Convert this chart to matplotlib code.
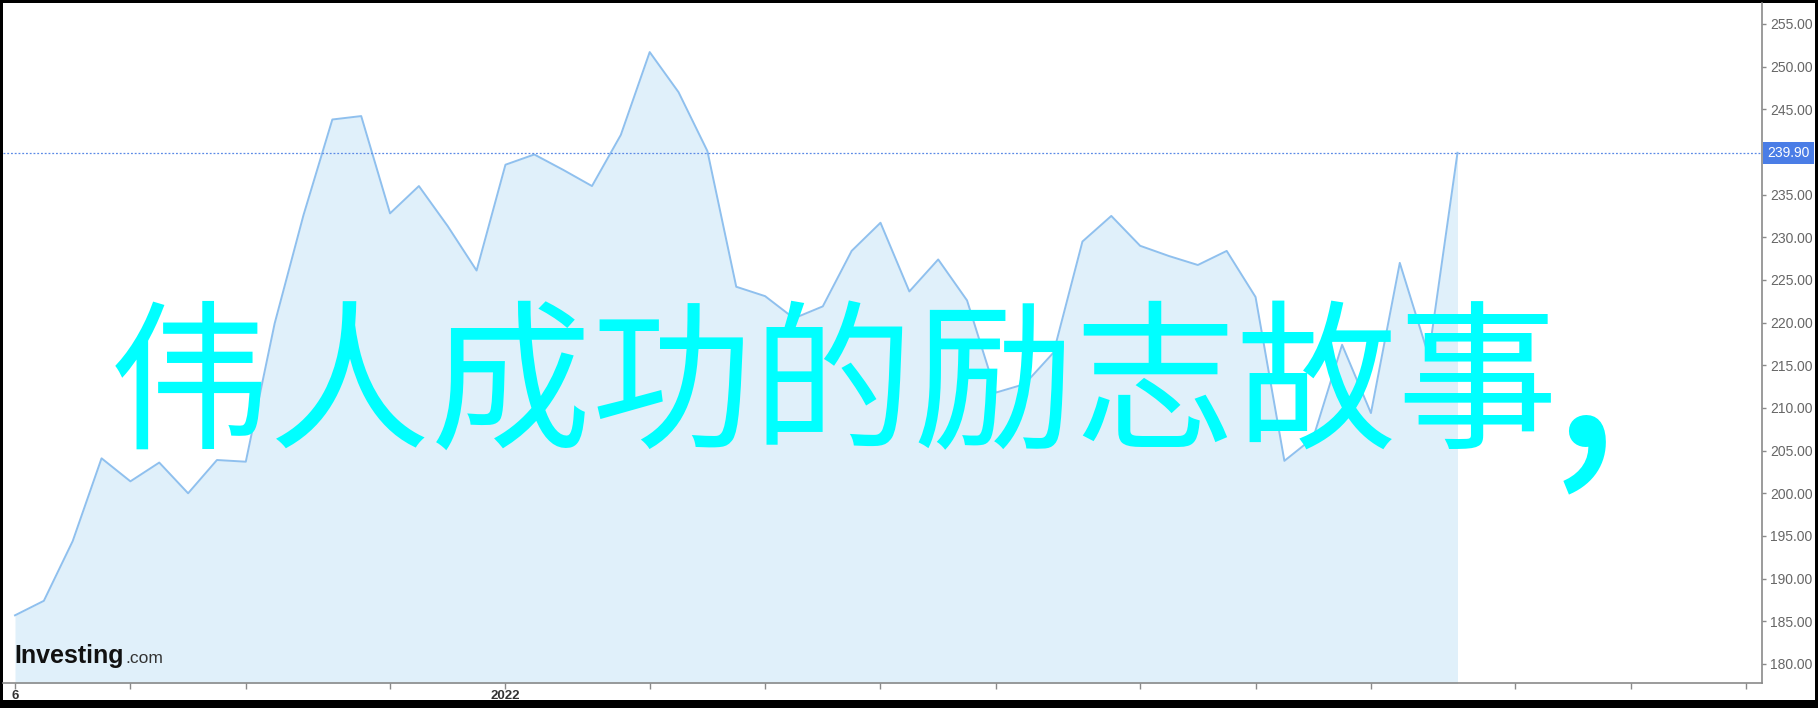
import matplotlib
matplotlib.use('Agg')
import matplotlib.pyplot as plt
import matplotlib.transforms as mtransforms
from matplotlib.patches import Rectangle

# weekly closes (index = week number)
prices = [185.7, 187.4, 194.4, 204.1, 201.4, 203.6, 200.0, 203.9, 203.7, 219.9,
          232.6, 243.8, 244.2, 232.8, 236.0, 231.3, 226.1, 238.5, 239.7, 237.9,
          236.0, 242.0, 251.7, 247.0, 240.1, 224.2, 223.1, 220.5, 221.9, 228.4,
          231.7, 223.65, 227.4, 222.6, 211.8, 212.8, 216.5, 229.5, 232.5, 229.0,
          227.8, 226.75, 228.4, 223.0, 203.8, 206.5, 217.4, 209.4, 227.0, 216.1,
          239.9]
weeks = list(range(len(prices)))
last_price = 239.90

x_ticks = [0, 4, 8, 13, 17, 22, 26, 30, 34, 39, 43, 47, 52, 56, 60]
x_labels = ['6', '', '', '', '2022', '', '', '', '', '', '', '', '', '', '']
y_ticks = [180, 185, 190, 195, 200, 205, 210, 215, 220, 225, 230, 235, 245, 250, 255]

title = '伟人成功的励志故事'
title_tail = ','

W, H = 1818, 708
fig = plt.figure(figsize=(W / 100, H / 100), dpi=100, facecolor='black')
fig.patches.append(Rectangle((3 / W, 8 / H), 1812 / W, 697 / H, transform=fig.transFigure,
                             facecolor='white', edgecolor='none', zorder=-10))

ax = fig.add_axes([3 / W, (H - 683) / H, (1762 - 3) / W, (683 - 3) / H])
ax.set_facecolor('none')

ax.fill_between(weeks, prices, 170, color='#e0f0fa', lw=0)
ax.plot(weeks, prices, color='#8fc0ee', lw=1.4)
ax.axhline(last_price, color='#5b8ae6', lw=0.9, ls=(0, (1.5, 1.5)))

ax.set_xlim(-0.416, 60.555)
ax.set_ylim(177.77, 257.45)

for s in ['left', 'top']:
    ax.spines[s].set_visible(False)
for s in ['right', 'bottom']:
    ax.spines[s].set_color('#8a8a8a')
    ax.spines[s].set_linewidth(1.2)

ax.yaxis.tick_right()
ax.set_yticks(y_ticks)
ax.set_yticklabels(['%.2f' % t for t in y_ticks], family='Liberation Sans', fontsize=10, color='#666666')
ax.tick_params(axis='y', direction='out', length=3, width=1, color='#8a8a8a', pad=3)

ax.set_xticks(x_ticks)
ax.set_xticklabels(x_labels, family='Liberation Sans', fontsize=9.5, color='#333333', fontweight='bold')
ax.tick_params(axis='x', direction='out', length=4, width=1, color='#8a8a8a', pad=1)

# current price tag on the right axis
trans = mtransforms.blended_transform_factory(ax.transAxes, ax.transData)
ax.annotate('%.2f' % last_price, xy=(1, last_price), xycoords=trans, xytext=(5, 0),
            textcoords='offset pixels', ha='left', va='center', color='white',
            family='Liberation Sans', fontsize=10,
            bbox=dict(boxstyle='square,pad=0.3', fc='#4a7de6', ec='none'))

# logo
fig.text(14 / W, 1 - 663 / H, 'Investing', family='Liberation Sans', fontweight='bold',
         fontsize=18, color='#111111', ha='left', va='baseline')
fig.text(125 / W, 1 - 663 / H, '.com', family='Liberation Sans',
         fontsize=12.5, color='#333333', ha='left', va='baseline')

fig.text(109 / W, 1 - 390 / H, title, family=['Noto Sans CJK SC', 'DejaVu Sans'],
         fontsize=116, color='#00ffff', ha='left', va='center')
fig.text(1550 / W, 1 - 446 / H, title_tail, family=['Noto Sans CJK SC', 'DejaVu Sans'],
         fontsize=182, color='#00ffff', ha='left', va='baseline')

fig.savefig('out.png', dpi=100, facecolor='black')
